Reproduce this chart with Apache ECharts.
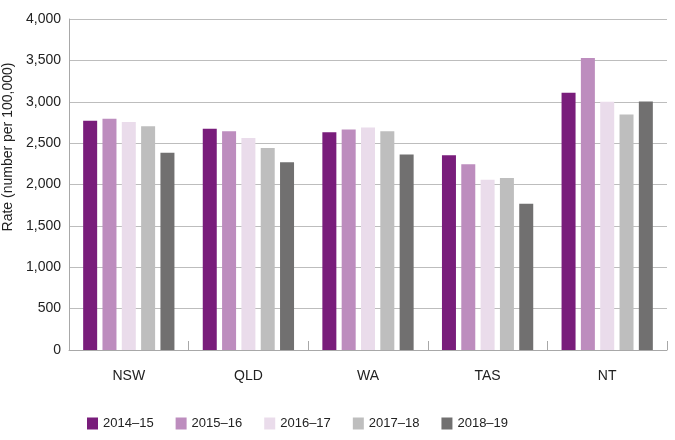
<!DOCTYPE html>
<html><head><meta charset="utf-8">
<script src="https://cdn.jsdelivr.net/npm/echarts@6/dist/echarts.min.js"></script>
<style>html,body{margin:0;padding:0;background:#fff}#c{width:675px;height:440px}</style>
</head><body><div id="c"></div>
<script>
var categories = ['NSW', 'QLD', 'WA', 'TAS', 'NT'];
var seriesNames = ['2014–15', '2015–16', '2016–17', '2017–18', '2018–19'];
var v2014 = [2770, 2675, 2630, 2352, 3110];
var v2015 = [2795, 2642, 2664, 2244, 3528];
var v2016 = [2755, 2561, 2689, 2058, 3000];
var v2017 = [2705, 2442, 2645, 2078, 2845];
var v2018 = [2384, 2269, 2362, 1768, 3003];
var yTicks = [0, 500, 1000, 1500, 2000, 2500, 3000, 3500, 4000];
var colors = ['#791D7B', '#BD8DBE', '#EADCEB', '#BEBEBE', '#717070'];
var values = [v2014, v2015, v2016, v2017, v2018];
var font = 'Liberation Sans, Arial, sans-serif';
var chart = echarts.init(document.getElementById('c'));
chart.setOption({
  animation: false,
  textStyle: {fontFamily: font},
  grid: {left: 69, right: 8, top: 19, bottom: 90, containLabel: false, outerBoundsMode: 'none'},
  legend: {
    left: 82, top: 412, itemWidth: 11, itemHeight: 12, itemGap: 22,
    icon: 'rect',
    textStyle: {fontFamily: font, fontSize: 13, color: '#222'},
    data: seriesNames
  },
  xAxis: {
    type: 'category', data: categories,
    axisLine: {lineStyle: {color: '#A8A8A8', width: 1}},
    axisTick: {show: true, inside: true, length: 9, lineStyle: {color: '#A8A8A8'}},
    axisLabel: {margin: 19, fontSize: 14, color: '#222', fontFamily: font}
  },
  yAxis: {
    type: 'value', min: yTicks[0], max: yTicks[yTicks.length - 1], interval: 500,
    name: 'Rate (number per 100,000)', nameLocation: 'middle', nameGap: 45, nameRotate: 90,
    nameTextStyle: {fontSize: 14, color: '#222', fontFamily: font, padding: [0, 0, 0, 75]},
    axisLine: {show: true, lineStyle: {color: '#A8A8A8'}},
    axisTick: {show: false},
    splitLine: {lineStyle: {color: '#BDBDBD', width: 1}},
    axisLabel: {margin: 8, fontSize: 14, color: '#222', fontFamily: font,
      formatter: function (v) { return v.toLocaleString('en-US'); }}
  },
  series: values.map(function (d, i) {
    return {
      name: seriesNames[i], type: 'bar', data: d,
      barWidth: 14, barGap: '38%',
      itemStyle: {color: colors[i]}
    };
  })
});
</script></body></html>
